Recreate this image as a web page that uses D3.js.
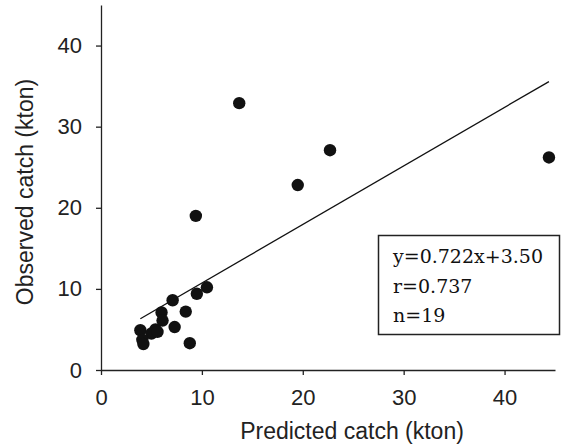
<!DOCTYPE html>
<html>
<head>
<meta charset="utf-8">
<script src="https://cdn.jsdelivr.net/npm/d3@7"></script>
<style>
  html, body { margin: 0; padding: 0; background: #fff; }
  svg { display: block; }
</style>
</head>
<body>
<svg id="chart" width="568" height="444"></svg>
<script>
// Predicted vs observed catch (kton), one point per year
const predicted = [13.7, 22.7, 19.5, 9.4, 44.4, 10.5, 9.5, 7.1, 8.4, 6.0, 6.1, 7.3, 3.9, 5.4, 5.0, 5.6, 4.1, 4.2, 8.8];
const observed  = [32.9, 27.1, 22.8, 19.0, 26.2, 10.2, 9.4, 8.6, 7.2, 7.1, 6.1, 5.3, 4.9, 5.0, 4.5, 4.7, 3.7, 3.2, 3.3];
const xTicks = [0, 10, 20, 30, 40];
const yTicks = [0, 10, 20, 30, 40];
const fit = { slope: 0.722, intercept: 3.50, r: 0.737 };
const statLines = ["y=0.722x+3.50", "r=0.737", "n=19"];

const svg = d3.select("#chart");
const sansFont = "'Liberation Sans', Arial, sans-serif";
const serifFont = "'DejaVu Serif', serif";

const x = d3.scaleLinear().domain([0, 45]).range([101, 555]);
const y = d3.scaleLinear().domain([0, 45]).range([370, 5]);

// Axes
const xAxis = svg.append("g")
  .attr("transform", `translate(0,${y(0)})`)
  .call(d3.axisBottom(x).tickValues(xTicks).tickSize(5).tickSizeOuter(0).tickPadding(14));
const yAxis = svg.append("g")
  .attr("transform", `translate(${x(0)},0)`)
  .call(d3.axisLeft(y).tickValues(yTicks).tickSize(5).tickSizeOuter(0).tickPadding(14));

[xAxis, yAxis].forEach(g => {
  g.selectAll("path, line").attr("stroke", "#222").attr("stroke-width", 1.3);
  g.selectAll("text")
    .attr("font-family", sansFont)
    .attr("font-size", 22)
    .attr("fill", "#222");
});

// Axis titles
svg.append("text")
  .attr("x", 352).attr("y", 439)
  .attr("text-anchor", "middle")
  .attr("font-family", sansFont).attr("font-size", 23).attr("fill", "#222")
  .text("Predicted catch (kton)");
svg.append("text")
  .attr("transform", `translate(33,192) rotate(-90)`)
  .attr("text-anchor", "middle")
  .attr("font-family", sansFont).attr("font-size", 23).attr("fill", "#222")
  .text("Observed catch (kton)");

// Regression line over the range of predicted values
const xMin = d3.min(predicted), xMax = d3.max(predicted);
svg.append("line")
  .attr("x1", x(xMin)).attr("y1", y(fit.slope * xMin + fit.intercept))
  .attr("x2", x(xMax)).attr("y2", y(fit.slope * xMax + fit.intercept))
  .attr("stroke", "#111").attr("stroke-width", 1.3);

// Points
svg.append("g").selectAll("circle")
  .data(d3.zip(predicted, observed))
  .join("circle")
  .attr("cx", d => x(d[0]))
  .attr("cy", d => y(d[1]))
  .attr("r", 6.2)
  .attr("fill", "#111");

// Fit statistics box
const box = svg.append("g");
box.append("rect")
  .attr("x", 378.5).attr("y", 235.5).attr("width", 181).attr("height", 99)
  .attr("fill", "#fff").attr("stroke", "#222").attr("stroke-width", 1.5);
box.selectAll("text.stat")
  .data(statLines)
  .join("text")
  .attr("class", "stat")
  .attr("x", 393)
  .attr("y", (d, i) => 263 + i * 29.5)
  .attr("font-family", serifFont).attr("font-size", 19).attr("fill", "#111")
  .text(d => d);
</script>
</body>
</html>
